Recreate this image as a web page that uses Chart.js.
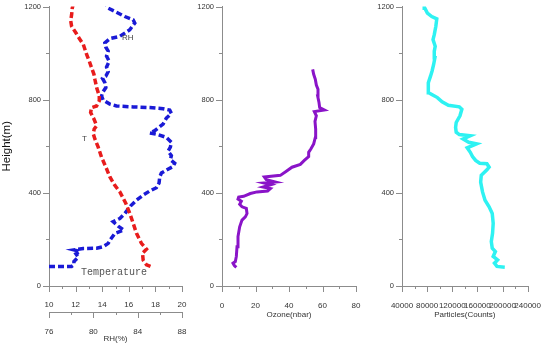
<!DOCTYPE html>
<html>
<head>
<meta charset="utf-8">
<script src="https://cdn.jsdelivr.net/npm/chart.js@4.4.1/dist/chart.umd.min.js"></script>
<style>
  body { margin: 0; background: #fff; }
  #wrap { position: relative; width: 550px; height: 344px; overflow: hidden; }
  canvas { position: absolute; top: 0; }
  .lbl { position: absolute; color: #444; font-family: "Liberation Sans", Arial, sans-serif; font-size: 8px; line-height: 1; }
</style>
</head>
<body>
<div id="wrap">
  <canvas id="c1" width="196" height="344" style="left:0"></canvas>
  <canvas id="c2" width="190" height="344" style="left:180px"></canvas>
  <canvas id="c3" width="190" height="344" style="left:360px"></canvas>
  <div class="lbl" style="left:122px; top:34px;">RH</div>
  <div class="lbl" style="left:82px; top:135px;">T</div>
  <div class="lbl" style="left:81px; top:268px; font-family:'Liberation Mono', monospace; font-size:10px; color:#555;">Temperature</div>
</div>
<script>
document.addEventListener('DOMContentLoaded', () => {

    // Temperature profile
    const tempVal = [17.63, 17.33, 17.08, 17.03, 17.33, 16.95, 16.58, 16.33, 16.08, 15.78, 15.53, 15.33, 14.95, 14.58,
        14.28, 13.95, 13.70, 13.45, 13.33, 13.40, 13.58, 13.38, 13.13, 13.20, 13.58, 13.78, 13.78, 13.58, 13.45, 13.38,
        13.20, 13.03, 12.83, 12.58, 12.33, 12.03, 11.70, 11.63, 11.70, 11.75, 11.80];
    const tempH = [84, 91, 111, 141, 158, 183, 226, 269, 311, 354, 382, 404, 432, 468,
        510, 553, 596, 631, 653, 674, 688, 717, 745, 766, 773, 795, 816, 852, 887, 909,
        937, 965, 994, 1037, 1058, 1086, 1115, 1139, 1164, 1193, 1205];

    // RH profile
    const rhVal = [76.00, 78.04, 78.25, 78.25, 78.64, 78.43, 78.79, 78.25, 79.09, 80.29, 80.89, 81.34, 81.55, 81.94,
        82.75, 82.24, 81.79, 82.39, 82.84, 83.35, 83.89, 84.49, 85.09, 85.69, 85.93, 85.99, 86.14, 86.65, 87.19,
        87.34, 86.95, 87.04, 86.74, 86.95, 87.04, 86.59, 85.84, 85.09, 85.54, 86.29, 86.59, 87.04, 86.89, 86.29,
        85.09, 83.59, 82.09, 81.49, 80.89, 80.74, 80.89, 81.13, 81.04, 80.83, 81.13, 81.34, 81.19, 81.43, 81.19,
        81.34, 81.13, 81.04, 81.49, 82.39, 83.29, 83.74, 83.59, 82.84, 81.94, 81.34, 81.19];
    const rhH = [84, 84, 91, 105, 124, 138, 148, 155, 161, 162, 169, 183, 200, 226,
        240, 257, 276, 290, 311, 343, 368, 390, 408, 422, 442, 468, 485, 499, 513,
        527, 542, 560, 579, 596, 617, 638, 650, 657, 667, 695, 721, 741, 755, 761,
        766, 769, 773, 781, 798, 816, 835, 852, 873, 891, 901, 920, 940, 965, 987,
        1008, 1025, 1044, 1062, 1072, 1100, 1129, 1143, 1157, 1179, 1193, 1205];

    // Ozone profile
    const ozoneVal = [8.56, 7.36, 6.57, 7.96, 8.56, 8.96, 9.55, 10.55, 11.94, 13.93, 14.93, 14.53, 11.94, 10.55,
        11.54, 9.55, 9.95, 12.94, 16.92, 20.90, 27.26, 28.86, 24.48, 29.25, 25.27, 31.84, 26.47, 25.27, 34.83,
        38.41, 41.79, 46.77, 49.15, 51.74, 51.74, 53.13, 54.73, 55.72, 55.92, 55.52, 56.32, 55.12, 61.09, 58.31,
        57.91, 57.11, 57.31, 56.32, 55.72, 54.73, 54.13];
    const ozoneH = [80, 88, 98, 105, 127, 169, 212, 254, 283, 297, 311, 333, 340, 351,
        364, 373, 382, 385, 397, 404, 408, 418, 425, 435, 442, 446, 456, 468, 475,
        493, 510, 522, 539, 556, 574, 589, 610, 638, 674, 707, 731, 749, 756, 766,
        788, 816, 845, 863, 887, 909, 930];

    // Particle counts profile
    const partVal = [203590, 191121, 187131, 192119, 185136, 188628, 183640, 182144, 184139, 185136, 183640, 178653,
        172169, 168179, 165186, 166184, 175161, 178653, 175161, 163690, 157206, 152219, 148728, 143741, 158703,
        146234, 137256, 148728, 131271, 126284, 125286, 126284, 132269, 135261, 131271, 113815, 103840, 96359,
        88878, 82394, 81396, 82394, 85386, 87880, 90374, 92369, 91371, 92868, 89376, 91371, 93865, 95361, 87381,
        80399, 76409, 75411];
    const partH = [81, 84, 98, 112, 127, 148, 162, 191, 226, 269, 311, 340,
        368, 404, 446, 475, 499, 510, 525, 527, 539, 556, 574, 593, 610,
        617, 631, 645, 650, 660, 681, 702, 731, 759, 769, 776, 791, 809,
        820, 830, 845, 873, 901, 923, 951, 980, 1008, 1029, 1058, 1079, 1115, 1147, 1157,
        1172, 1193, 1205];

    const pts = (xs, ys) => xs.map((v, i) => ({ x: v, y: ys[i] }));

    const tickFont = { family: 'Liberation Sans, Arial, sans-serif', size: 8 };
    const axisGray = '#8c8c8c';

    // draws major / minor tick marks on every scale
    const tickMarks = {
        id: 'tickMarks',
        afterDraw(chart) {
            const ctx = chart.ctx;
            ctx.save();
            ctx.strokeStyle = axisGray;
            ctx.lineWidth = 1;
            Object.values(chart.scales).forEach(s => {
                s.ticks.forEach(t => {
                    const len = (t.label === '' ? 3 : 6);
                    const p = Math.round(s.getPixelForValue(t.value)) + 0.5;
                    ctx.beginPath();
                    if (s.axis === 'y') {
                        ctx.moveTo(s.right, p);
                        ctx.lineTo(s.right - len, p);
                    } else {
                        ctx.moveTo(p, s.top);
                        ctx.lineTo(p, s.top + len);
                    }
                    ctx.stroke();
                });
            });
            ctx.restore();
        }
    };

    function heightAxis(showTitle, w) {
        return {
            type: 'linear', position: 'left', min: 0, max: 1200,
            grid: { display: false, drawTicks: true, tickLength: 6 },
            border: { display: true, color: axisGray },
            ticks: {
                stepSize: 200, autoSkip: false, padding: 2, color: '#333',
                font: { family: 'Liberation Sans, Arial, sans-serif', size: 7.5 },
                callback: v => (v % 400 === 0 ? v : '')
            },
            title: {
                display: showTitle, text: 'Height(m)', color: '#111', padding: { top: 0, bottom: 0 },
                font: { family: 'Liberation Sans, Arial, sans-serif', size: 11.5 }
            },
            afterFit: s => { s.width = w; }
        };
    }

    function valueAxis(min, max, step, major, title, h, weight, pad) {
        return {
            type: 'linear', position: 'bottom', min: min, max: max, weight: weight,
            grid: { display: false, drawTicks: true, tickLength: 6 },
            border: { display: true, color: axisGray },
            ticks: {
                stepSize: step, autoSkip: false, maxRotation: 0, padding: pad, color: '#333', font: tickFont,
                callback: v => (v % major === 0 ? v : '')
            },
            title: {
                display: !!title, text: title || '', color: '#333', padding: { top: 0, bottom: 0 },
                font: tickFont
            },
            afterFit: s => { s.height = h; }
        };
    }

    const common = {
        responsive: false,
        animation: false,
        plugins: { legend: { display: false }, tooltip: { enabled: false } },
        elements: { point: { radius: 0 }, line: { tension: 0 } }
    };

    // Left panel: temperature + RH
    new Chart(document.getElementById('c1'), {
        type: 'scatter',
        data: {
            datasets: [{
                label: 'T', data: pts(tempVal, tempH), xAxisID: 'xT', yAxisID: 'y',
                showLine: true, borderColor: '#e81c1c', borderWidth: 3.5, borderDash: [6, 3]
            }, {
                label: 'RH', data: pts(rhVal, rhH), xAxisID: 'xRH', yAxisID: 'y',
                showLine: true, borderColor: '#1a1ad6', borderWidth: 3.5, borderDash: [6, 3]
            }]
        },
        options: Object.assign({}, common, {
            layout: { padding: { top: 5, right: 14, bottom: 0, left: 0 } },
            scales: {
                y: heightAxis(true, 49),
                xT: valueAxis(10, 20, 1, 2, null, 26, 0, 8),
                xRH: valueAxis(76, 88, 2, 4, 'RH(%)', 32, 1, 9)
            }
        }),
        plugins: [tickMarks]
    });

    // Middle panel: ozone
    new Chart(document.getElementById('c2'), {
        type: 'scatter',
        data: {
            datasets: [{
                label: 'Ozone', data: pts(ozoneVal, ozoneH),
                showLine: true, borderColor: '#8a14c8', borderWidth: 3
            }]
        },
        options: Object.assign({}, common, {
            layout: { padding: { top: 5, right: 14, bottom: 24, left: 0 } },
            scales: {
                y: heightAxis(false, 42),
                x: valueAxis(0, 80, 10, 20, 'Ozone(nbar)', 34, 0, 9)
            }
        }),
        plugins: [tickMarks]
    });

    // Right panel: particle counts
    new Chart(document.getElementById('c3'), {
        type: 'scatter',
        data: {
            datasets: [{
                label: 'Particles', data: pts(partVal, partH),
                showLine: true, borderColor: '#2ef2f2', borderWidth: 3.5
            }]
        },
        options: Object.assign({}, common, {
            layout: { padding: { top: 5, right: 14, bottom: 24, left: 0 } },
            scales: {
                y: heightAxis(false, 42),
                x: valueAxis(40000, 240000, 20000, 40000, 'Particles(Counts)', 34, 0, 9)
            }
        }),
        plugins: [tickMarks]
    });

})
</script>
</body>
</html>
